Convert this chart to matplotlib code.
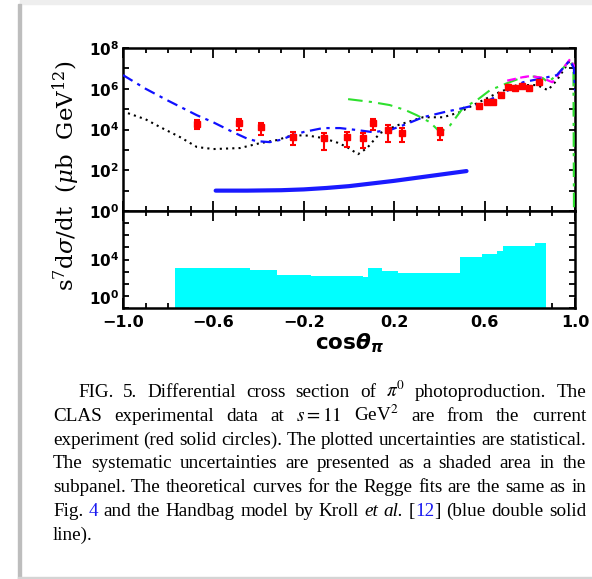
import re
import numpy as np
import matplotlib
matplotlib.use("Agg")
import matplotlib.pyplot as plt
from matplotlib.ticker import MultipleLocator, NullLocator
from matplotlib.patches import Rectangle

plt.rcParams['font.family'] = ['DejaVu Sans']
plt.rcParams['mathtext.fontset'] = 'custom'
plt.rcParams['mathtext.rm'] = 'DejaVu Sans:bold'
plt.rcParams['mathtext.it'] = 'DejaVu Sans:bold:italic'
plt.rcParams['mathtext.bf'] = 'DejaVu Sans:bold'

# ---- data (y values given as log10 exponents) ----
# CLAS points
cos_data = [-0.673, -0.487, -0.39, -0.25, -0.11, -0.009, 0.062, 0.106, 0.173, 0.235, 0.403,
            0.575, 0.61, 0.637, 0.673, 0.704, 0.735, 0.766, 0.797, 0.84]
lg_data = [4.26, 4.31, 4.12, 3.63, 3.58, 3.63, 3.58, 4.31, 3.97, 3.82, 3.87,
           5.15, 5.35, 5.35, 5.69, 6.07, 6.03, 6.13, 6.03, 6.32]
lg_lo = [4.02, 3.97, 3.72, 3.24, 2.99, 3.15, 3.07, 3.97, 3.37, 3.40, 3.48,
         5.05, 5.25, 5.25, 5.60, 5.98, 5.95, 6.05, 5.92, 6.22]
lg_hi = [4.46, 4.50, 4.33, 3.89, 3.82, 3.89, 3.81, 4.50, 4.21, 4.05, 4.08,
         5.25, 5.45, 5.45, 5.78, 6.16, 6.11, 6.21, 6.14, 6.42]

# Regge fit curves
cos_blue = [-1.0, -0.9, -0.805, -0.673, -0.6, -0.513, -0.45, -0.41, -0.35, -0.30, -0.25, -0.2,
            -0.115, -0.04, 0.03, 0.106, 0.18, 0.25, 0.327, 0.42, 0.504, 0.593, 0.681, 0.77,
            0.858, 0.92, 0.978, 0.995, 1.0]
lg_blue = [6.67, 6.0, 5.44, 4.7, 4.35, 3.87, 3.55, 3.43, 3.38, 3.5, 3.72, 3.88,
           4.07, 4.07, 3.98, 3.87, 3.97, 4.25, 4.6, 4.85, 5.05, 5.29, 5.78, 6.32,
           6.52, 6.67, 7.4, 7.0, 5.9]

cos_black = [-0.978, -0.9, -0.836, -0.748, -0.673, -0.6, -0.482, -0.394, -0.319, -0.25, -0.18,
             -0.115, -0.05, -0.009, 0.04, 0.08, 0.137, 0.212, 0.327, 0.416, 0.49, 0.566,
             0.655, 0.743, 0.832, 0.88, 0.92, 0.978, 0.995]
lg_black = [4.8, 4.5, 4.12, 3.63, 3.14, 3.04, 3.09, 3.33, 3.48, 3.72, 3.7,
            3.58, 3.35, 3.14, 2.79, 3.09, 3.82, 4.2, 4.6, 4.6, 4.85, 5.29,
            5.78, 6.18, 6.18, 5.93, 6.42, 7.4, 7.06]

cos_green = [-0.004, 0.1, 0.18, 0.25, 0.30, 0.358, 0.403, 0.447, 0.504, 0.566, 0.624, 0.699,
             0.77, 0.82, 0.858, 0.88, 0.92, 0.978, 0.993, 0.996]
lg_green = [5.49, 5.35, 5.2, 4.95, 4.7, 4.36, 3.87, 4.2, 5.05, 5.44, 5.93, 6.27,
            6.57, 6.6, 6.52, 6.32, 6.67, 7.4, 7.0, -2.0]

cos_magenta = [0.70, 0.77, 0.80, 0.85, 0.90, 0.947, 0.978, 1.0]
lg_magenta = [6.40, 6.57, 6.62, 6.55, 6.32, 7.0, 7.45, 7.06]

# Handbag model (Kroll et al.)
cos_hb = [-0.59, -0.45, -0.3, -0.2, -0.1, 0.0, 0.1, 0.2, 0.3, 0.4, 0.52]
lg_hb = [1.00, 1.00, 1.02, 1.06, 1.13, 1.22, 1.35, 1.48, 1.63, 1.78, 1.96]

# systematic uncertainties (subpanel)
syst_edges = [-0.77, -0.44, -0.32, -0.17, -0.06, 0.06, 0.085, 0.145, 0.215, 0.49, 0.59,
              0.655, 0.68, 0.80, 0.825, 0.87]
lg_syst = [3.33, 3.17, 2.70, 2.62, 2.60, 2.55, 3.28, 3.03, 2.92, 4.24, 4.44, 4.74,
           5.15, 5.10, 5.40]

x_major = [-1.0, -0.6, -0.2, 0.2, 0.6, 1.0]
x_labels = ["\u22121.0", "\u22120.6", "\u22120.2", "0.2", "0.6", "1.0"]

caption = [
    r"FIG. 5. Differential cross section of $\pi^0$ photoproduction. The",
    r"CLAS experimental data at $s=11$ GeV$^2$ are from the current",
    r"experiment (red solid circles). The plotted uncertainties are statistical.",
    r"The systematic uncertainties are presented as a shaded area in the",
    r"subpanel. The theoretical curves for the Regge fits are the same as in",
    r"Fig. @4@ and the Handbag model by Kroll _et_ _al._ [@12@] (blue double solid",
    r"line).",
]

W, H = 592, 579
fig = plt.figure(figsize=(W / 100, H / 100), dpi=100)

# page frame look
fig.patches.append(Rectangle((20 / W, 1 - 4 / H), 1, 4 / H, transform=fig.transFigure,
                             color='#eeeeee', zorder=0))
fig.patches.append(Rectangle((18 / W, 0), 2.5 / W, 1 - 4 / H, transform=fig.transFigure,
                             color='#bdbdbd', zorder=0))
fig.patches.append(Rectangle((18 / W, 0), 1, 2.5 / H, transform=fig.transFigure,
                             color='#d4d4d4', zorder=0))

ax1 = fig.add_axes([123 / W, 1 - 211 / H, 452 / W, 163 / H])
ax2 = fig.add_axes([123 / W, 1 - 308 / H, 452 / W, 97 / H])

tolin = lambda a: 10 ** np.asarray(a, dtype=float)

y = tolin(lg_data)
ax1.plot(cos_hb, tolin(lg_hb), color='#1a1aff', lw=3.0, solid_capstyle='round', zorder=3)
ax1.plot(cos_black, tolin(lg_black), color='black', lw=1.5, dashes=(1, 2.0), zorder=3)
ax1.plot(cos_green, tolin(lg_green), color='#2ee02e', lw=1.5, dashes=(7, 3, 1.5, 3), zorder=3)
ax1.plot(cos_magenta, tolin(lg_magenta), color='#ff00ff', lw=1.6, dashes=(4, 2), zorder=3)
ax1.plot(cos_blue, tolin(lg_blue), color='#1010ff', lw=1.6, dashes=(5, 2.5, 1.5, 2.5), zorder=4)
ax1.errorbar(cos_data, y, yerr=[y - tolin(lg_lo), tolin(lg_hi) - y], fmt='s', color='red',
             ms=5, capsize=2.5, elinewidth=1.5, capthick=1.5, zorder=5)

ax2.stairs(tolin(lg_syst), syst_edges, baseline=1, fill=True, color='#00ffff', zorder=2)

for ax in (ax1, ax2):
    ax.set_xlim(-1, 1)
    ax.set_yscale('log')
    ax.set_ylim(1, 1e8)
    ax.set_xticks(x_major)
    ax.xaxis.set_minor_locator(MultipleLocator(0.1))
    ax.yaxis.set_minor_locator(NullLocator())
    for s in ax.spines.values():
        s.set_linewidth(1.8)
    ax.tick_params(which='both', direction='in', top=True, right=True, width=1.3)
    ax.tick_params(axis='x', which='major', length=7)
    ax.tick_params(axis='x', which='minor', length=3.5)
    ax.tick_params(axis='y', which='major', length=4, pad=3, labelsize=11)

ax1.set_yticks([10.0 ** k for k in range(9)],
               labels=[f"$10^{{{k}}}$" if k % 2 == 0 else "" for k in range(9)])
ax2.set_yticks([10.0 ** k for k in range(9)],
               labels=[f"$10^{{{k}}}$" if k in (0, 4) else "" for k in range(9)])
ax2.get_yticklabels()[0].set_verticalalignment('bottom')
ax1.set_xticklabels([])
ax2.set_xticklabels(x_labels, fontsize=11.5, fontweight='bold')
ax2.tick_params(axis='x', pad=5)
ax2.set_xlabel(r"cos$\theta_{\pi}$", fontsize=15.5, fontweight='bold', labelpad=1)

fig.text(66 / W, 1 - 176 / H,
         r"$\mathrm{s^7d}\sigma\mathrm{/dt\ \ (}\mu\mathrm{b\ \ GeV^{12})}$",
         rotation=90, ha='center', va='center', fontsize=16.5, math_fontfamily='dejavuserif')

# ---- justified caption ----
renderer = fig.canvas.get_renderer()
left, right, indent = 53, 586, 78
base0, lead = 397, 23.8
cap_size = 13.8


def make_seg(txt, style):
    kw = dict(fontsize=cap_size, family='Liberation Serif', color='black',
              ha='left', va='baseline', math_fontfamily='stix')
    if style == 'blue':
        kw['color'] = '#1a1af0'
    elif style == 'italic':
        kw['style'] = 'italic'
    return fig.text(0, 0, txt, **kw)


for i, line in enumerate(caption):
    words = []
    for w in line.split(' '):
        segs = []
        for part in re.split(r'(@[^@]*@|_[^_]*_)', w):
            if not part:
                continue
            if part.startswith('@'):
                segs.append(make_seg(part[1:-1], 'blue'))
            elif part.startswith('_'):
                segs.append(make_seg(part[1:-1], 'italic'))
            else:
                segs.append(make_seg(part, None))
        widths = [t.get_window_extent(renderer).width for t in segs]
        words.append((segs, widths))
    x0 = indent if i == 0 else left
    total = sum(sum(ws) for _, ws in words)
    if i < len(caption) - 1 and len(words) > 1:
        gap = (right - x0 - total) / (len(words) - 1)
    else:
        gap = 4.0
    yb = base0 + lead * i
    x = x0
    for segs, ws in words:
        for t, wdt in zip(segs, ws):
            t.set_position((x / W, 1 - yb / H))
            x += wdt
        x += gap

fig.savefig("out.png", dpi=100)
